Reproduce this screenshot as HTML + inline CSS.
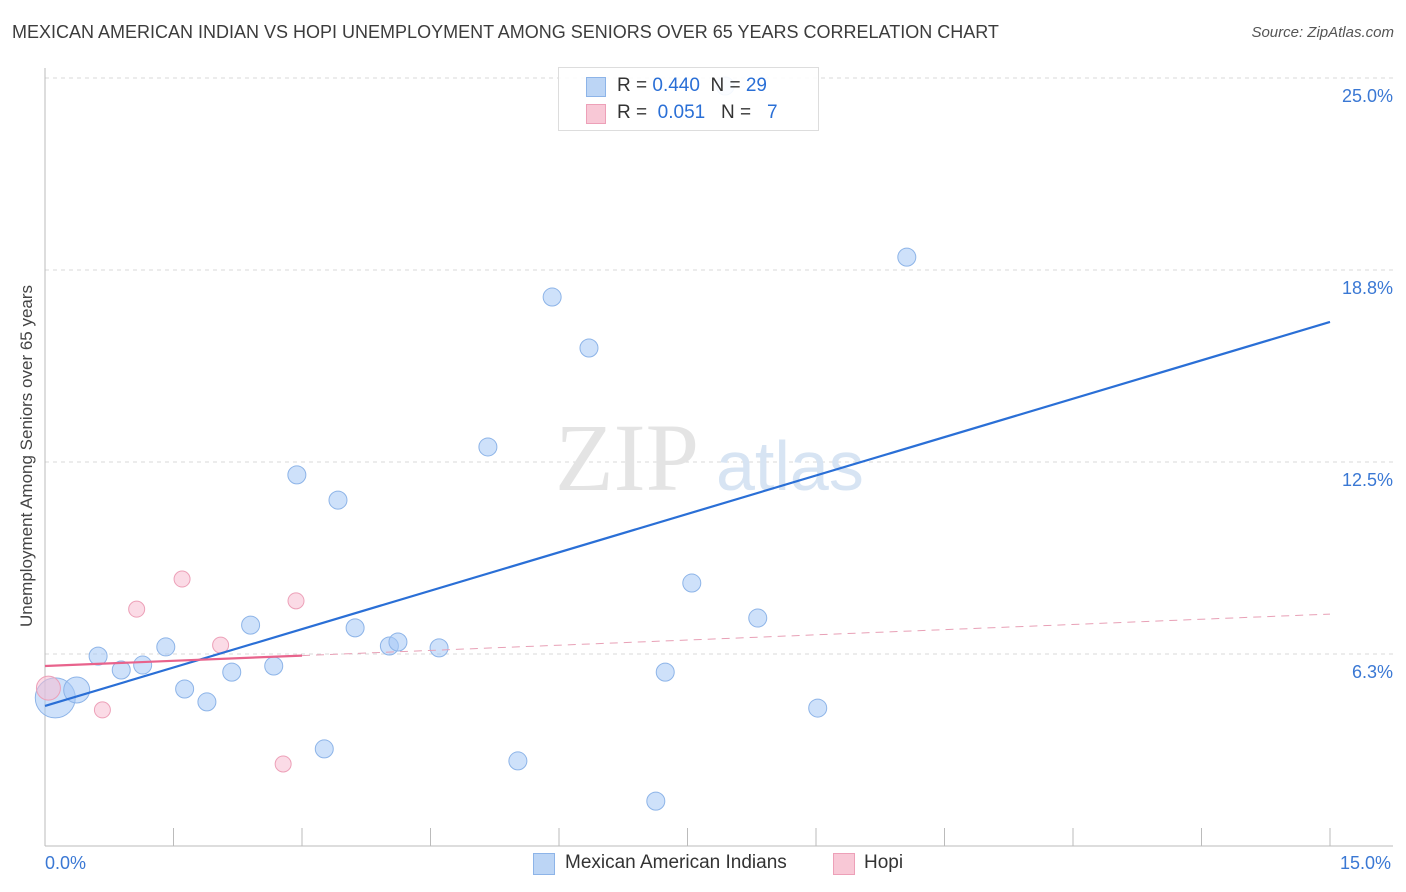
<!DOCTYPE html>
<html><head><meta charset="utf-8"><style>
body{margin:0;background:#fff;font-family:"Liberation Sans",sans-serif;}
#wrap{position:relative;width:1406px;height:892px;overflow:hidden;}
.t{position:absolute;white-space:nowrap;}
</style></head><body>
<div id="wrap">
<div class="t" style="left:12px;top:22px;font-size:18px;color:#3c3c3c;">MEXICAN AMERICAN INDIAN VS HOPI UNEMPLOYMENT AMONG SENIORS OVER 65 YEARS CORRELATION CHART</div>
<div class="t" style="right:12px;top:24px;font-size:15px;color:#555;font-style:italic;">Source: ZipAtlas.com</div>
<svg id="plot" width="1406" height="892" style="position:absolute;left:0;top:0"></svg>
</div>
<script>
const xTicksPct=[0,1.5,3,4.5,6,7.5,9,10.5,12,13.5,15];
const yTicks=[6.25,12.5,18.75,25];
const yTickLabels=["6.3%","12.5%","18.8%","25.0%"];
const blueX=[0.12,0.37,0.62,0.89,1.14,1.41,1.63,1.89,2.18,2.40,2.67,2.94,3.26,3.42,3.62,4.02,4.12,4.60,5.17,5.52,5.92,6.35,7.13,7.24,7.55,8.32,9.02,10.06,7.94];
const blueY=[4.82,5.08,6.18,5.73,5.89,6.48,5.11,4.69,5.66,7.19,5.86,12.08,3.16,11.26,7.10,6.51,6.64,6.45,12.99,2.77,17.87,16.21,1.46,5.66,8.56,7.42,4.49,19.17,24.74];
const blueR=[20,13,9,9,9,9,9,9,9,9,9,9,9,9,9,9,9,9,9,9,9,9,9,9,9,9,9,9,9];
const pinkX=[0.04,0.67,1.07,1.60,2.05,2.78,2.93];
const pinkY=[5.14,4.43,7.71,8.69,6.54,2.67,7.98];
const pinkR=[12,8,8,8,8,8,8];
const blueTrend=[4.56,17.06];
const pinkTrend=[5.86,7.55];
const NS="http://www.w3.org/2000/svg";
const svg=document.getElementById('plot');
const X=v=>45+v*(1285/15);
const Y=v=>846-v*(192/6.25);
function mk(tag,attrs){const e=document.createElementNS(NS,tag);for(const k in attrs)e.setAttribute(k,attrs[k]);svg.appendChild(e);return e;}
// gridlines
yTicks.forEach((v,i)=>{
 const g=mk('line',{x1:45,x2:1393,y1:Y(v),y2:Y(v),stroke:'#d8d8d8','stroke-dasharray':'4,4'});
 
 
 const t=mk('text',{x:1393,y:Y(v)+24,'text-anchor':'end','font-size':18,fill:'#3a78d4','font-family':'Liberation Sans'});
 t.textContent=yTickLabels[i];
 
 
});
// axes
let a=mk('line',{x1:45,x2:45,y1:68,y2:846,stroke:'#bbb'});


a=mk('line',{x1:45,x2:1393,y1:846,y2:846,stroke:'#bbb'});


xTicksPct.forEach(v=>{
 const t=mk('line',{x1:X(v),x2:X(v),y1:828,y2:846,stroke:'#bbb'});
 
 
});
// watermark
let w=mk('text',{x:555,y:490,'font-size':96,fill:'#e4e4e4','font-family':'Liberation Serif'});w.textContent='ZIP';


w=mk('text',{x:716,y:490,'font-size':70,fill:'#d7e4f3','font-family':'Liberation Sans'});w.textContent='atlas';


// points
blueX.forEach((v,i)=>{
 const c=mk('circle',{cx:X(v),cy:Y(blueY[i]),r:blueR[i],fill:'rgba(165,200,245,0.55)',stroke:'#8db4e8','stroke-width':1});
 
 
});
pinkX.forEach((v,i)=>{
 const c=mk('circle',{cx:X(v),cy:Y(pinkY[i]),r:pinkR[i],fill:'rgba(248,190,210,0.55)',stroke:'#eda0b8','stroke-width':1});
 
 
});
// trends
let l=mk('line',{x1:X(0),y1:Y(blueTrend[0]),x2:X(15),y2:Y(blueTrend[1]),stroke:'#2a6fd6','stroke-width':2.2});


const pAt=x=>pinkTrend[0]+(pinkTrend[1]-pinkTrend[0])*x/15;
l=mk('line',{x1:X(0),y1:Y(pAt(0)),x2:X(3),y2:Y(pAt(3)),stroke:'#e8638c','stroke-width':2.2});


l=mk('line',{x1:X(3),y1:Y(pAt(3)),x2:X(15),y2:Y(pAt(15)),stroke:'#e8a0b6','stroke-width':1,'stroke-dasharray':'8,6'});


</script>
<div class="t" style="left:27px;top:456px;font-size:17px;color:#444;transform:translate(-50%,-50%) rotate(-90deg);">Unemployment Among Seniors over 65 years</div>
<div class="t" style="left:45px;top:853px;font-size:18px;color:#3a78d4;">0.0%</div>
<div class="t" style="left:1340px;top:853px;font-size:18px;color:#3a78d4;">15.0%</div>
<div style="position:absolute;left:558px;top:67px;width:259px;height:62px;border:1px solid #ddd;background:rgba(255,255,255,0.9);font-size:19px;color:#333;">
 <div style="position:absolute;left:27px;top:9px;width:18px;height:18px;background:#bcd5f5;border:1px solid #8db4e8"></div>
 <div class="t" style="left:58px;top:7px;">R = <span style="color:#2a6fd6">0.440</span>&nbsp;&nbsp;N = <span style="color:#2a6fd6">29</span></div>
 <div style="position:absolute;left:27px;top:36px;width:18px;height:18px;background:#f8c8d6;border:1px solid #eda0b8"></div>
 <div class="t" style="left:58px;top:34px;">R = &nbsp;<span style="color:#2a6fd6">0.051</span>&nbsp;&nbsp;&nbsp;N = &nbsp;&nbsp;<span style="color:#2a6fd6">7</span></div>
</div>
<div style="position:absolute;left:533px;top:852px;font-size:19px;color:#333;">
 <div style="position:absolute;left:0;top:1px;width:20px;height:20px;background:#bcd5f5;border:1px solid #8db4e8"></div>
 <div class="t" style="left:32px;top:0;">Mexican American Indians</div>
 <div style="position:absolute;left:300px;top:1px;width:20px;height:20px;background:#f8c8d6;border:1px solid #eda0b8"></div>
 <div class="t" style="left:331px;top:0;">Hopi</div>
</div>
</body></html>
